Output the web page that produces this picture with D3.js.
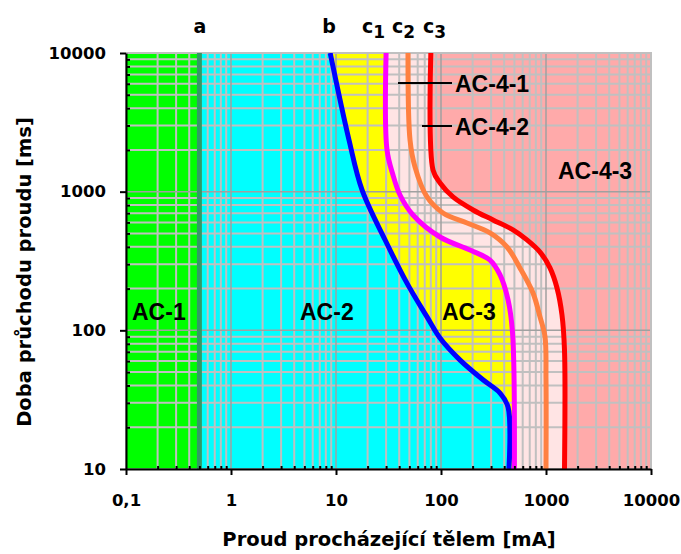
<!DOCTYPE html>
<html>
<head>
<meta charset="utf-8">
<script src="https://cdn.jsdelivr.net/npm/d3@7"></script>
<style>
  body { margin: 0; background: #fff; }
  svg { display: block; }
</style>
</head>
<body>
<script>
// current through body [mA] vs duration [ms], curves
var curveB  = [[8.8,10000],[13.3,2360],[17.7,1030],[29.3,450],[47.4,219],[73.6,125],[97.8,88],[152,61],[251,44],[365,35.3],[435,28],[444,10]];
var curveC1 = [[30,10000],[30.6,2000],[34.9,1320],[40.7,946],[54.1,679],[97.8,471],[189,379],[293,321],[365,251],[435,166],[480,96],[500,10]];
var curveC2 = [[48.5,10000],[50.7,2360],[56.5,1510],[73.6,916],[104.5,702],[177,594],[293,504],[425,399],[565,282],[752,186],[877,125],[978,90],[1000,44],[1000,10]];
var curveC3 = [[80,10000],[84,1430],[98,1155],[130,916],[202,738],[313,625],[485,530],[659,449],[877,367],[1091,282],[1273,202],[1420,129],[1500,72],[1500,10]];
var lineA = 0.5;

var xTicks = [0.1, 1, 10, 100, 1000, 10000];
var xTickLabels = ["0,1", "1", "10", "100", "1000", "10000"];
var yTicks = [10, 100, 1000, 10000];
var yTickLabels = ["10", "100", "1000", "10000"];

var w = 681, h = 554;
var pLeft = 126, pRight = 651, pTop = 53, pBottom = 469;

var xScale = d3.scaleLog().domain([0.1, 10000]).range([pLeft, pRight]);
var yScale = d3.scaleLog().domain([10, 10000]).range([pBottom, pTop]);

var xMinor = [], yMinor = [];
[0.1, 1, 10, 100, 1000].forEach(function(d){
  for (var k = 2; k < 10; k++) xMinor.push(d * k);
});
[10, 100, 1000].forEach(function(d){
  for (var k = 2; k < 10; k++) yMinor.push(d * k);
});

var svg = d3.select("body").append("svg")
  .attr("width", w).attr("height", h);

var line = d3.line()
  .x(function(d){ return xScale(d[0]); })
  .y(function(d){ return yScale(d[1]); })
  .curve(d3.curveCatmullRom.alpha(0.5));

// area left of a curve, closed along the left edge
function leftArea(c){
  return line(c) + "L" + pLeft + "," + pBottom + "L" + pLeft + "," + pTop + "Z";
}

// background fills
svg.append("rect")
  .attr("x", pLeft).attr("y", pTop)
  .attr("width", pRight - pLeft).attr("height", pBottom - pTop)
  .attr("fill", "#ffaaaa");
svg.append("path").attr("d", leftArea(curveC3)).attr("fill", "#ffe4e4");
svg.append("path").attr("d", leftArea(curveC1)).attr("fill", "#ffff00");
svg.append("path").attr("d", leftArea(curveB)).attr("fill", "#00ffff");
svg.append("rect")
  .attr("x", pLeft).attr("y", pTop)
  .attr("width", xScale(lineA) - pLeft).attr("height", pBottom - pTop)
  .attr("fill", "#00ff00");

// grid
var grid = svg.append("g");
grid.selectAll(".vmin").data(xMinor).enter().append("line")
  .attr("x1", xScale).attr("x2", xScale)
  .attr("y1", pTop).attr("y2", pBottom)
  .attr("stroke", "#c0c0c0").attr("stroke-width", 2);
grid.selectAll(".hmin").data(yMinor).enter().append("line")
  .attr("y1", yScale).attr("y2", yScale)
  .attr("x1", pLeft).attr("x2", pRight)
  .attr("stroke", "#c0c0c0").attr("stroke-width", 2);
grid.selectAll(".vmaj").data(xTicks).enter().append("line")
  .attr("x1", xScale).attr("x2", xScale)
  .attr("y1", pTop).attr("y2", pBottom)
  .attr("stroke", "#a0a0a0").attr("stroke-width", 1.5);
grid.selectAll(".hmaj").data(yTicks).enter().append("line")
  .attr("y1", yScale).attr("y2", yScale)
  .attr("x1", pLeft).attr("x2", pRight)
  .attr("stroke", "#a0a0a0").attr("stroke-width", 1.5);
svg.append("path")
  .attr("d", "M" + pLeft + "," + pTop + "H" + pRight + "V" + pBottom)
  .attr("fill", "none").attr("stroke", "#c0c0c0").attr("stroke-width", 2);

// line a
svg.append("line")
  .attr("x1", xScale(lineA)).attr("x2", xScale(lineA))
  .attr("y1", pTop).attr("y2", pBottom)
  .attr("stroke", "#339966").attr("stroke-width", 5);

// curves
var curves = [[curveB, "#0000ff"], [curveC1, "#ff00ff"], [curveC2, "#ff8040"], [curveC3, "#ff0000"]];
svg.append("clipPath").attr("id", "plotclip").append("rect")
  .attr("x", pLeft).attr("y", pTop).attr("width", pRight - pLeft).attr("height", pBottom - pTop);
svg.append("g").attr("clip-path", "url(#plotclip)")
  .selectAll("path").data(curves).enter().append("path")
  .attr("d", function(d){ return line(d[0]); })
  .attr("fill", "none")
  .attr("stroke", function(d){ return d[1]; })
  .attr("stroke-width", 5);

// axes
var tickFont = "DejaVu Sans";
var xAxis = d3.axisBottom(xScale)
  .tickValues(xTicks)
  .tickSizeInner(6).tickSizeOuter(0).tickPadding(19)
  .tickFormat(function(d, i){ return xTickLabels[i]; });
var gx = svg.append("g")
  .attr("transform", "translate(0," + pBottom + ")")
  .call(xAxis);
svg.append("g")
  .attr("transform", "translate(0," + pBottom + ")")
  .call(d3.axisBottom(xScale).tickValues(xMinor).tickSize(-3).tickFormat(""))
  .call(function(g){
    g.select(".domain").remove();
    g.selectAll("line").attr("stroke", "#000").attr("stroke-width", 2);
  });

var yAxis = d3.axisLeft(yScale)
  .tickValues(yTicks)
  .tickSizeInner(6).tickSizeOuter(0).tickPadding(14)
  .tickFormat(function(d, i){ return yTickLabels[i]; });
var gy = svg.append("g")
  .attr("transform", "translate(" + pLeft + ",0)")
  .call(yAxis);
svg.append("g")
  .attr("transform", "translate(" + pLeft + ",0)")
  .call(d3.axisLeft(yScale).tickValues(yMinor).tickSize(-4).tickFormat(""))
  .call(function(g){
    g.select(".domain").remove();
    g.selectAll("line").attr("stroke", "#000").attr("stroke-width", 2);
  });

[gx, gy].forEach(function(g){
  g.select(".domain").attr("stroke", "#000").attr("stroke-width", 2);
  g.selectAll("line").attr("stroke", "#000").attr("stroke-width", 2);
  g.selectAll("text")
    .attr("font-family", tickFont).attr("font-weight", "bold")
    .attr("font-size", 16.5).attr("fill", "#000");
});

// axis titles
svg.append("text")
  .attr("x", 389).attr("y", 546)
  .attr("text-anchor", "middle")
  .attr("font-family", tickFont).attr("font-weight", "bold").attr("font-size", 19.5)
  .text("Proud procházející tělem [mA]");
svg.append("text")
  .attr("transform", "translate(31,272) rotate(-90)")
  .attr("text-anchor", "middle")
  .attr("font-family", tickFont).attr("font-weight", "bold").attr("font-size", 19.5)
  .text("Doba průchodu proudu [ms]");

// curve names above the plot
var topLabels = [["a", 200, null], ["b", 329, null], ["c", 369, "1"], ["c", 399, "2"], ["c", 430, "3"]];
topLabels.forEach(function(t){
  var tx = svg.append("text")
    .attr("x", t[1]).attr("y", 33)
    .attr("text-anchor", t[2] ? "start" : "middle")
    .attr("font-family", tickFont).attr("font-weight", "bold").attr("font-size", 19);
  if (t[2]) {
    tx.attr("x", t[1] - 7).text(t[0]);
    tx.append("tspan").attr("dy", 5).attr("font-size", 17).text(t[2]);
  } else {
    tx.text(t[0]);
  }
});

// zone labels
var zoneFont = "Liberation Sans";
var zones = [["AC-1", 132, 320], ["AC-2", 300, 320], ["AC-3", 442, 320],
             ["AC-4-1", 455, 92], ["AC-4-2", 455, 135], ["AC-4-3", 558, 179]];
svg.selectAll(".zone").data(zones).enter().append("text")
  .attr("x", function(d){ return d[1]; })
  .attr("y", function(d){ return d[2]; })
  .attr("font-family", zoneFont).attr("font-weight", "bold").attr("font-size", 23)
  .attr("fill", "#000")
  .text(function(d){ return d[0]; });

// leader lines
svg.append("line").attr("x1", 398).attr("x2", 452).attr("y1", 83).attr("y2", 83)
  .attr("stroke", "#000").attr("stroke-width", 2);
svg.append("line").attr("x1", 422).attr("x2", 452).attr("y1", 126).attr("y2", 126)
  .attr("stroke", "#000").attr("stroke-width", 2);
</script>
</body>
</html>
